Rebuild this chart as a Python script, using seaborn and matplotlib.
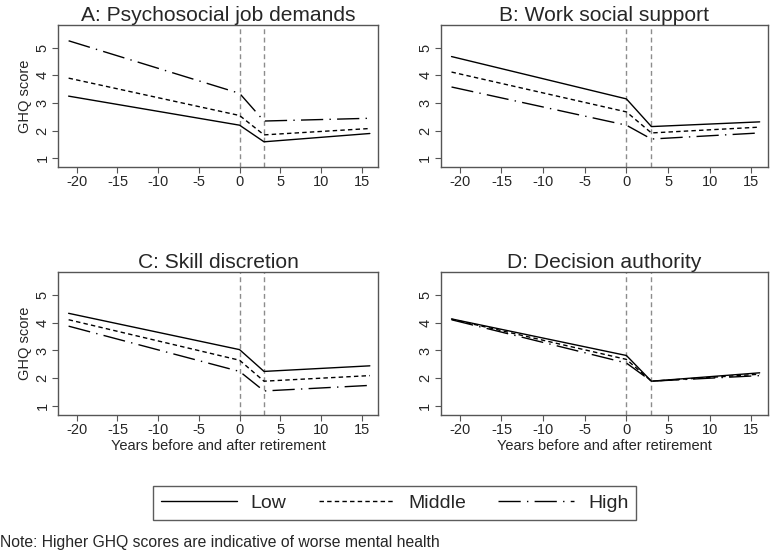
import numpy as np
import pandas as pd
import matplotlib
matplotlib.use("Agg")
import matplotlib.pyplot as plt
import seaborn as sns
from matplotlib.lines import Line2D

sns.set_theme(style="white")
plt.rcParams['font.family'] = ['Liberation Sans', 'DejaVu Sans']

years = [-21, 0, 3, 16]
levels = ["Low", "Middle", "High"]
titles = ["A: Psychosocial job demands", "B: Work social support",
          "C: Skill discretion", "D: Decision authority"]

a_low = [3.25, 2.20, 1.60, 1.90]
a_mid = [3.90, 2.55, 1.85, 2.08]
a_high = [5.25, 3.35, 2.35, 2.45]
b_low = [4.68, 3.15, 2.15, 2.32]
b_mid = [4.12, 2.68, 1.92, 2.13]
b_high = [3.58, 2.20, 1.70, 1.92]
c_low = [4.33, 3.03, 2.25, 2.45]
c_mid = [4.10, 2.65, 1.90, 2.10]
c_high = [3.87, 2.25, 1.55, 1.75]
d_low = [4.13, 2.82, 1.90, 2.20]
d_mid = [4.12, 2.68, 1.90, 2.15]
d_high = [4.10, 2.55, 1.90, 2.10]

panels = [(a_low, a_mid, a_high), (b_low, b_mid, b_high),
          (c_low, c_mid, c_high), (d_low, d_mid, d_high)]

dashes = {"Low": "", "Middle": (3.2, 2.3), "High": (16, 4.5, 1, 4.5)}

fig = plt.figure(figsize=(7.8, 5.52), dpi=100)
rects = [
    [0.0744, 0.6975, 0.4102, 0.2572],
    [0.5650, 0.6975, 0.4196, 0.2572],
    [0.0744, 0.2482, 0.4102, 0.2596],
    [0.5650, 0.2482, 0.4196, 0.2596],
]

edge = "#555555"
for i, (rect, vals, title) in enumerate(zip(rects, panels, titles)):
    ax = fig.add_axes(rect)
    rows = []
    for lev, v in zip(levels, vals):
        for yr, val in zip(years, v):
            rows.append({"year": yr, "ghq": val, "level": lev})
    df = pd.DataFrame(rows)
    sns.lineplot(data=df, x="year", y="ghq", style="level", style_order=levels,
                 dashes=dashes, color="black", linewidth=1.0, ax=ax, legend=False)
    for xv in (0, 3):
        ax.axvline(xv, color="#8c8c8c", linestyle=(0, (3.5, 2.5)), linewidth=1.0, zorder=0)
    ax.set_xlim(-22.3, 17.0)
    ax.set_ylim(0.69, 5.82)
    ax.set_xticks([-20, -15, -10, -5, 0, 5, 10, 15])
    ax.set_xticklabels(["-20", "-15", "-10", "-5", "0", "5", "10", "15"])
    ax.set_yticks([1, 2, 3, 4, 5])
    ax.set_yticklabels(["1", "2", "3", "4", "5"], rotation=90, va="center")
    ax.tick_params(axis="both", which="both", direction="out", length=4, width=0.8,
                   color=edge, labelsize=10.5, bottom=True, left=True, pad=2)
    for s in ax.spines.values():
        s.set_color(edge)
        s.set_linewidth(1.0)
    ax.set_title(title, fontsize=15.1, pad=3)
    if i % 2 == 0:
        ax.set_ylabel("GHQ score", fontsize=10.5, labelpad=3)
    else:
        ax.set_ylabel("")
    if i >= 2:
        ax.set_xlabel("Years before and after retirement", fontsize=10.5, labelpad=1)
    else:
        ax.set_xlabel("")

handles = [Line2D([0], [0], color="black", linewidth=1.0, linestyle="-"),
           Line2D([0], [0], color="black", linewidth=1.0, dashes=dashes["Middle"]),
           Line2D([0], [0], color="black", linewidth=1.0, dashes=dashes["High"])]
leg = fig.legend(handles, levels, loc="center", bbox_to_anchor=(0.506, 0.0888), ncol=3,
                 frameon=True, fontsize=14, handlelength=3.9, columnspacing=1.65,
                 handletextpad=0.72, borderpad=0.4, fancybox=False)
leg.get_frame().set_edgecolor("#333333")
leg.get_frame().set_linewidth(1.0)

fig.text(0.0, 0.009, "Note: Higher GHQ scores are indicative of worse mental health",
         fontsize=11.3, ha="left", va="baseline")

fig.savefig("out.png", dpi=100)
